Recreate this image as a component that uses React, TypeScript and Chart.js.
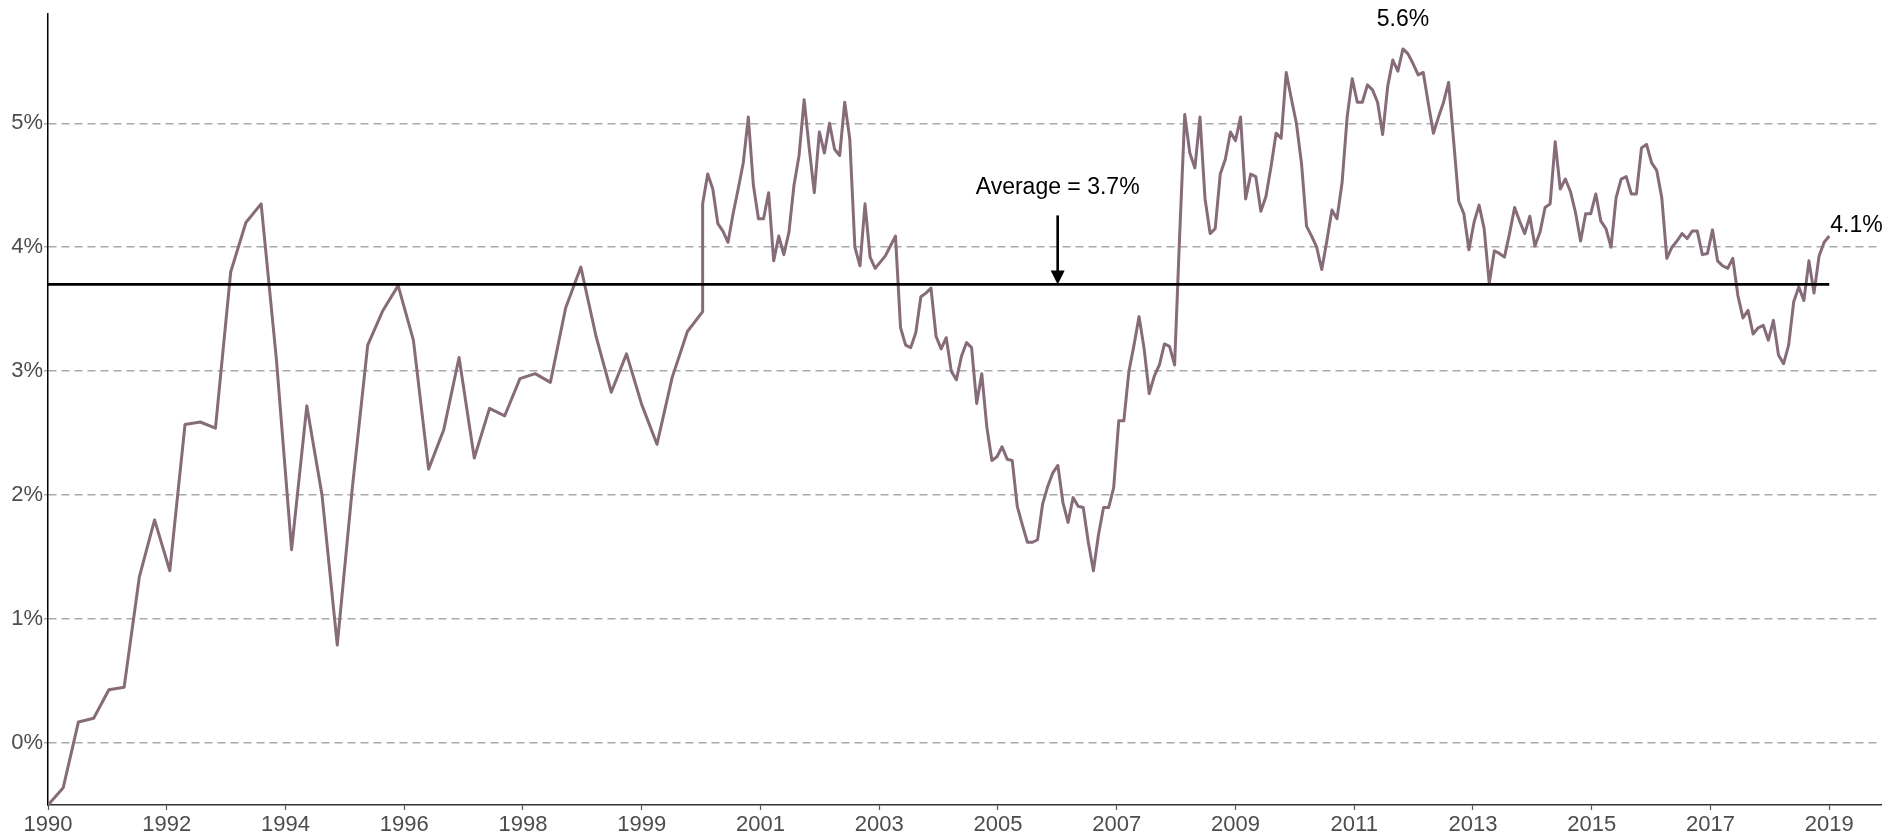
import React, { useEffect, useRef } from 'react';
import { Chart, registerables } from 'chart.js';

Chart.register(...registerables);

// ---- data ----
// quarterly observations (quarter-end dates), first one = 1990 Q1
const quarterlyStart = 1990.25;
const quarterlyValues = [
  -0.5, -0.36, 0.17, 0.2, 0.43, 0.45, 1.34, 1.8, 1.39, 2.57, 2.59, 2.54,
  3.8, 4.2, 4.35, 3.1, 1.56, 2.72, 2.0, 0.79, 2.07, 3.21, 3.49, 3.69,
  3.25, 2.21, 2.53, 3.11, 2.3, 2.7, 2.64, 2.94, 2.98, 2.91, 3.51, 3.84,
  3.28, 2.83, 3.14, 2.73, 2.41, 2.95, 3.32, 3.48,
];
// monthly observations, first one = Dec 2000
const monthlyStart = 2001.0;
const monthlyValues = [
  4.35, 4.59, 4.47, 4.19, 4.13, 4.04, 4.27, 4.47, 4.68, 5.05, 4.5, 4.23,
  4.23, 4.44, 3.89, 4.09, 3.94, 4.12, 4.5, 4.74, 5.19, 4.8, 4.44, 4.93,
  4.76, 5.0, 4.79, 4.74, 5.17, 4.87, 4.0, 3.85, 4.35, 3.92, 3.83, 3.88,
  3.93, 4.01, 4.09, 3.35, 3.21, 3.19, 3.31, 3.6, 3.63, 3.67, 3.28, 3.18,
  3.27, 3.0, 2.93, 3.12, 3.23, 3.19, 2.74, 2.98, 2.55, 2.28, 2.31, 2.39,
  2.29, 2.28, 1.91, 1.76, 1.62, 1.62, 1.64, 1.93, 2.07, 2.18, 2.24, 1.94,
  1.78, 1.98, 1.91, 1.9, 1.62, 1.39, 1.68, 1.9, 1.9, 2.06, 2.6, 2.6,
  3.0, 3.21, 3.44, 3.18, 2.82, 2.96, 3.05, 3.22, 3.2, 3.05, 4.1, 5.07,
  4.76, 4.64, 5.05, 4.39, 4.11, 4.15, 4.59, 4.71, 4.93, 4.86, 5.05, 4.39,
  4.59, 4.57, 4.29, 4.41, 4.65, 4.92, 4.88, 5.41, 5.2, 5.0, 4.68, 4.17,
  4.09, 4.0, 3.82, 4.05, 4.3, 4.23, 4.52, 5.05, 5.36, 5.17, 5.17, 5.31,
  5.27, 5.17, 4.91, 5.3, 5.51, 5.42, 5.6, 5.56, 5.48, 5.39, 5.41, 5.16,
  4.92, 5.05, 5.17, 5.33, 4.85, 4.37, 4.27, 3.98, 4.2, 4.34, 4.15, 3.71,
  3.97, 3.95, 3.92, 4.11, 4.32, 4.21, 4.11, 4.25, 4.01, 4.12, 4.32, 4.35,
  4.85, 4.47, 4.55, 4.45, 4.28, 4.05, 4.27, 4.27, 4.43, 4.21, 4.15, 4.0,
  4.4, 4.55, 4.57, 4.43, 4.43, 4.8, 4.83, 4.68, 4.62, 4.4, 3.91, 4.0,
  4.05, 4.11, 4.07, 4.13, 4.13, 3.94, 3.95, 4.14, 3.89, 3.85, 3.83, 3.91,
  3.61, 3.43, 3.49, 3.3, 3.35, 3.37, 3.25, 3.41, 3.13, 3.06, 3.21, 3.56,
  3.68, 3.57, 3.89, 3.63, 3.93, 4.04, 4.09,
];
const tickLabels = [
  '1990', '1992', '1994', '1996', '1998', '1999', '2001', '2003',
  '2005', '2007', '2009', '2011', '2013', '2015', '2017', '2019',
];
const yTickValues = [0, 1, 2, 3, 4, 5];
const averageValue = 3.7;

// ---- layout / style constants ----
const W = 1885;
const H = 838;
const X_MAX = 2020.35;
const Y_MIN = -0.5;
const Y_MAX = 5.88;
const ANNOT_X = 2006.83;
const FONT = '"Liberation Sans", Arial, Helvetica, sans-serif';
const LINE_COLOR = '#866b79';
const GRID_COLOR = '#a9a9a9';
const TICK_TEXT = '#4d4d4d';

const points = [
  ...quarterlyValues.map((v, i) => ({ x: quarterlyStart + i * 0.25, y: v })),
  ...monthlyValues.map((v, i) => ({ x: monthlyStart + i / 12, y: v })),
];
const firstX = points[0].x;
const lastX = points[points.length - 1].x;
const tickPositions = tickLabels.map(
  (_, i) => firstX + ((lastX - firstX) * i) / (tickLabels.length - 1)
);

const annotationPlugin = {
  id: 'annotations',
  afterDatasetsDraw(chart: any) {
    const { ctx, scales } = chart;
    const xs = scales.x;
    const ys = scales.y;
    ctx.save();
    ctx.fillStyle = '#000';
    ctx.strokeStyle = '#000';
    ctx.font = `23px ${FONT}`;

    // average annotation
    const ax = xs.getPixelForValue(ANNOT_X);
    const ay = ys.getPixelForValue(averageValue);
    ctx.textAlign = 'center';
    ctx.textBaseline = 'middle';
    ctx.fillText(`Average = ${averageValue.toFixed(1)}%`, ax, ay - 97);
    ctx.lineWidth = 2.6;
    ctx.beginPath();
    ctx.moveTo(ax, ay - 69);
    ctx.lineTo(ax, ay - 10);
    ctx.stroke();
    ctx.beginPath();
    ctx.moveTo(ax - 7, ay - 14);
    ctx.lineTo(ax + 7, ay - 14);
    ctx.lineTo(ax, ay);
    ctx.closePath();
    ctx.fill();

    // max label
    let maxP = points[0];
    for (const p of points) if (p.y > maxP.y) maxP = p;
    const mx = xs.getPixelForValue(maxP.x);
    const my = ys.getPixelForValue(maxP.y);
    ctx.textAlign = 'center';
    ctx.textBaseline = 'alphabetic';
    ctx.fillText(`${maxP.y.toFixed(1)}%`, mx, my - 23);

    // last label
    const lastP = points[points.length - 1];
    const lx = xs.getPixelForValue(lastP.x);
    const ly = ys.getPixelForValue(lastP.y);
    ctx.textAlign = 'left';
    ctx.fillText(`${lastP.y.toFixed(1)}%`, lx + 1, ly - 4);
    ctx.restore();
  },
};

export default function App() {
  const ref = useRef<HTMLCanvasElement | null>(null);

  useEffect(() => {
    document.body.style.margin = '0';
    const canvas = ref.current;
    if (!canvas) return;
    const chart = new Chart(canvas, {
      type: 'line',
      data: {
        datasets: [
          {
            label: 'Average',
            data: [
              { x: firstX, y: averageValue },
              { x: lastX, y: averageValue },
            ],
            borderColor: '#000',
            borderWidth: 2.8,
            pointRadius: 0,
            order: 0,
          },
          {
            label: 'Series',
            data: points,
            borderColor: LINE_COLOR,
            borderWidth: 3,
            pointRadius: 0,
            tension: 0,
            borderJoinStyle: 'round',
            order: 1,
          },
        ],
      },
      options: {
        responsive: false,
        maintainAspectRatio: false,
        animation: false,
        devicePixelRatio: 1,
        layout: { padding: { top: 6, right: 4, left: 0, bottom: 0 } },
        plugins: {
          legend: { display: false },
          tooltip: { enabled: false },
          title: { display: false },
        },
        scales: {
          x: {
            type: 'linear',
            min: firstX,
            max: X_MAX,
            afterBuildTicks: (scale: any) => {
              scale.ticks = tickPositions.map((v) => ({ value: v }));
            },
            afterFit: (scale: any) => {
              scale.height = 33;
            },
            ticks: {
              autoSkip: false,
              maxRotation: 0,
              minRotation: 0,
              padding: 2,
              color: TICK_TEXT,
              font: { family: FONT, size: 22 },
              callback: (_v: any, i: number) => tickLabels[i],
            },
            grid: {
              display: true,
              drawOnChartArea: false,
              drawTicks: true,
              tickLength: 5,
              tickColor: '#555',
              tickWidth: 1.2,
            },
            border: { display: true, color: '#333', width: 1.5 },
          },
          y: {
            type: 'linear',
            min: Y_MIN,
            max: Y_MAX,
            afterBuildTicks: (scale: any) => {
              scale.ticks = yTickValues.map((v) => ({ value: v }));
            },
            afterFit: (scale: any) => {
              scale.width = 48;
            },
            ticks: {
              padding: 1,
              color: TICK_TEXT,
              font: { family: FONT, size: 22 },
              callback: (v: any) => `${v}%`,
            },
            grid: {
              display: true,
              color: GRID_COLOR,
              lineWidth: 1.5,
              drawTicks: true,
              tickLength: 4,
              tickColor: GRID_COLOR,
              tickBorderDash: [8, 5],
            },
            border: { display: true, color: '#000', width: 1.5, dash: [8, 5] },
          },
        },
      },
      plugins: [annotationPlugin],
    } as any);
    return () => chart.destroy();
  }, []);

  return (
    <div style={{ width: W, height: H }}>
      <canvas ref={ref} width={W} height={H} style={{ display: 'block' }} />
    </div>
  );
}
